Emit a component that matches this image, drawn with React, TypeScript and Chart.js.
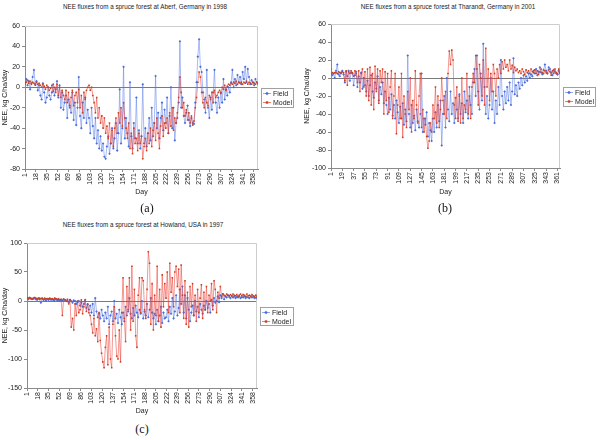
import React, { useEffect, useRef } from 'react';
import { Chart, registerables } from 'chart.js';

Chart.register(...registerables);

const FONT = "'Liberation Sans', Arial, Helvetica, sans-serif";
const FIELD_LINE = 'rgba(90,125,230,0.65)';
const FIELD_PT = 'rgb(75,108,220)';
const MODEL_LINE = 'rgba(235,55,45,0.65)';
const MODEL_PT = 'rgb(200,65,30)';

// Day of year (every second day sampled)
const days: number[] = Array.from({ length: 183 }, (_, i) => 1 + 2 * i);

const ticksA = [1, 18, 35, 52, 69, 86, 103, 120, 137, 154, 171, 188, 205, 222, 239, 256, 273, 290, 307, 324, 341, 358];
const ticksB = [1, 19, 37, 55, 73, 91, 109, 127, 145, 163, 181, 199, 217, 235, 253, 271, 289, 307, 325, 343, 361];
const ticksC = [1, 18, 35, 52, 69, 86, 103, 120, 137, 154, 171, 188, 205, 222, 239, 256, 273, 290, 307, 324, 341, 358];

// (a) Aberf, Germany 1998
const aberfField = [
  5, 8, 2, 6, -2, 4, 10, 17, 3, 6,
  -3, 2, -8, -12, 4, -5, -15, -10, 0, -8,
  -12, -5, 3, -8, -2, 6, -10, 2, -20, -5,
  -22, -15, -8, -30, -12, -18, -25, -5, -32, -15,
  -37, -20, 10, -28, -40, -15, -30, -10, -35, -22,
  -30, -45, -20, -38, -50, -30, -55, -42, -60, -48,
  -62, -55, -68, -70, -58, -48, -65, -55, -40, -60,
  -50, -35, -62, -45, -2, -55, -40, 20, -50, -30,
  -45, -58, 5, -48, -60, -35, -50, -10, -55, -42,
  -60, -48, 3, -55, -40, -58, -45, -30, -52, -20,
  -48, -35, 11, -40, -25, -50, -30, -15, -42, -22,
  -35, -10, -45, -28, 0, -40, -20, -52, -35, -30,
  -15, 45, -20, -10, -28, -35, -25, -18, -32, -38,
  -30, -35, -36, -15, 5, 30, 47, 20, 15, -5,
  -12, -25, 17, -20, -30, -10, -22, -5, 17, -15,
  -25, -10, -20, -5, -15, 8, -12, -2, -8, 0,
  -5, 5, 17, 0, 8, 2, 12, 5, 10, 3,
  15, 8, 20, 5, 18, 10, 3, 7, 5, 2,
  8, 5, 3,
];
const aberfModel = [
  3, 5, 7, 4, 6, 3, 5, 4, 2, 5,
  3, 4, 2, 0, 3, 1, -2, 2, 0, -3,
  -1, 2, -4, 0, -5, 3, -8, 0, -10, -3,
  -8, -12, -3, -15, -5, -20, -10, -3, -18, -8,
  -5, -15, -2, -20, -8, -25, -5, -12, -3, 0,
  2, -3, 0, -8, -15, -25, -10, -30, -20, -35,
  -28, -40, -30, -45, -38, -50, -35, -55, -42, -58,
  -40, -30, -45, -25, -35, -20, -38, -15, -30, -40,
  -50, -35, -60, -45, -65, -40, -55, -50, -62, -45,
  -55, -48, -70, -58, -50, -62, -45, -55, -40, -58,
  -42, -35, -52, -30, -45, -60, -38, -28, -48, -35,
  -40, -30, -45, -25, -38, -20, -42, -30, -35, -25,
  -10, 10, -5, -20, -15, -28, -22, -32, -25, -35,
  -28, -37, -33, -20, -10, 5, 15, 10, -5, -15,
  -20, -10, -15, -18, -8, -12, -5, -15, -3, -10,
  -8, -5, -3, -6, 0, -2, 2, -3, 1, 3,
  2, 4, 3, 5, 4, 6, 3, 5, 4, 5,
  3, 5, 4, 6, 3, 5, 4, 3, 5, 4,
  3, 5, 4,
];

// (b) Tharandt, Germany 2001
const tharandtField = [
  10, 3, 5, 0, 8, 15, 4, 2, 6, 8,
  4, -5, 7, 2, 8, -3, 6, 5, -8, 3,
  7, -10, 2, -5, 6, -12, 0, -8, -15, -3,
  -20, -8, 3, -15, -22, -5, -12, 2, -25, -10,
  -18, -5, -28, -15, -30, -40, -22, -35, -18, -42,
  -30, -45, -25, -38, -50, -32, -45, -28, -52, -35,
  -48, 25, -40, -55, -30, -50, -42, -58, -35, -48,
  -55, -40, 5, -60, -45, -52, -38, -65, -50, -58,
  -70, -45, -60, -38, -55, -30, -48, -25, -75, -40,
  -20, -55, 0, -35, -48, -15, -40, -28, -50, -22,
  -35, -45, -18, -40, -28, -50, -15, -38, -25, -45,
  -10, -30, -40, -5, 10, -20, 25, -15, -35, 5,
  -25, 38, -10, -40, -20, -45, -30, 0, -35, -15,
  -50, -25, -40, -10, -30, 20, -20, -35, -15, -28,
  -10, -25, -5, -30, -15, 22, -18, -8, -20, -5,
  -12, 0, -8, 3, -5, 2, -3, 5, 0, 4,
  2, 8, 5, 10, 3, 7, 12, 6, 4, 9,
  15, 8, 5, 12, 10, 6, 3, 9, 7, 5,
  4, 8, 6,
];
const tharandtModel = [
  5, 6, 5, 6, 6, 5, 7, 6, 5, 7,
  6, -3, 8, -8, 7, 5, 8, 6, 2, 8,
  5, -5, 8, -15, 5, 10, -10, 7, -20, 10,
  -25, 12, -30, 5, -35, 13, -15, 10, -28, 8,
  -5, 10, -40, 7, -25, 5, -38, -10, 8, -45,
  -20, 5, -62, -30, -10, -45, 5, -66, -20, -40,
  -55, -15, -35, 0, -60, -25, -45, 8, -30, -50,
  -20, 5, -55, -35, -60, -45, -65, -78, -70, -50,
  -60, -30, -45, -10, -50, -20, -55, -35, 0, -25,
  -40, -15, -45, 5, 30, 15, 31, 20, -30, -45,
  -10, -48, -20, -50, 0, -45, -30, -35, 5, -40,
  -20, -45, -10, 5, -5, 25, 10, -30, 15, 0,
  -20, 20, -30, 33, -10, 10, -25, 5, -15, 15,
  5, -20, 10, 0, 15, 5, 18, 10, 20, 12,
  15, 8, 20, 10, 14, 6, 12, 8, 10, 6,
  8, 5, 10, 7, 4, 9, 6, 8, 5, 10,
  7, 6, 9, 5, 8, 4, 7, 10, 6, 5,
  8, 6, 5, 9, 7, 3, 8, 5, 10, 6,
  4, 10, 5,
];

// (c) Howland, USA 1997
const howlandField = [
  4, 3, 5, 4, 3, 4, 5, 3, 2, 4,
  3, -3, 4, 2, 3, 1, 4, 2, 3, 2,
  3, 1, 2, 3, 1, 2, 0, 2, 1, 3,
  2, 0, 1, -2, 2, 0, -3, 1, 0, -5,
  -2, 0, -8, -3, -10, -5, 2, -12, -6, -15,
  -8, -20, -5, -25, 5, -18, -28, -22, -30, -15,
  -25, -35, -20, -30, -10, -40, -25, -18, -35, 0,
  -30, -22, -38, -15, -28, -40, -20, -35, -10, -25,
  -18, 5, -22, -30, -12, -25, -8, -20, -28, -15,
  -22, 0, -30, -18, -25, -5, -28, -15, 5, -20,
  -30, -22, -40, -15, -35, -25, -10, -38, -20, -30,
  -28, -15, -35, -10, -22, 5, -30, -18, 10, -25,
  -12, 20, -5, 25, -20, 10, -30, 5, -15, -35,
  -20, -8, -25, 0, -18, -10, -28, -5, -15, -22,
  -8, -15, 0, -12, -5, -20, 2, -8, 5, -3,
  0, 8, -2, 10, 5, 12, 3, 8, 6, 10,
  7, 5, 9, 6, 8, 5, 7, 6, 8, 5,
  7, 6, 8, 5, 7, 6, 5, 8, 6, 7,
  5, 6, 5,
];
const howlandModel = [
  6, 5, 6, 5, 4, 5, 6, 5, 4, 5,
  5, 4, 5, 3, 5, 4, 3, 4, 5, 4,
  4, 3, 5, 4, 3, 4, 2, 3, -25, 3,
  2, 0, 3, -5, 2, -45, -30, -50, -5, -25,
  0, -20, -15, 2, -22, -10, 0, -18, -5, -20,
  -25, -40, -55, -30, -60, -48, -70, -20, -68, -90,
  -105, -115, -80, -60, -110, -45, -100, -115, -40, -10,
  -60, -95, -100, -50, -105, -20, 40, -30, -70, 25,
  -15, 40, -50, 60, -35, 20, -60, -80, 10, 40,
  -20, 40, 35, -15, -30, 20, 85, 65, -40, 30,
  -50, 10, -25, 60, -35, 20, -45, 45, -10, 30,
  5, 50, -20, 65, 15, 40, -10, 50, 60, 25,
  55, -20, 62, 10, -30, 35, -40, 15, -45, 25,
  -10, 30, -25, 10, -35, 20, -20, 5, 28, -30,
  15, -15, 25, -20, 10, 0, 30, -15, 35, 20,
  -20, 15, 5, 25, 8, 12, 10, 8, 12, 10,
  9, 11, 8, 12, 10, 9, 11, 8, 10, 12,
  9, 11, 10, 8, 12, 9, 10, 8, 11, 9,
  8, 10, 8,
];

type Box = { left: number; right: number; top: number; bottom: number };
type PanelProps = {
  left: number; top: number; width: number; height: number;
  plot: Box;
  field: number[]; model: number[];
  yMin: number; yMax: number; yStep: number;
  xTicks: number[];
  legend: { x: number; y: number; w: number; h: number };
};

function Panel(p: PanelProps) {
  const ref = useRef<HTMLCanvasElement>(null);
  useEffect(() => {
    const canvas = ref.current;
    if (!canvas) return;
    const frame = {
      id: 'frame',
      beforeDatasetsDraw(chart: any) {
        const a = chart.chartArea;
        const c = chart.ctx;
        c.save();
        c.strokeStyle = '#cdcdcd';
        c.lineWidth = 1;
        c.beginPath();
        c.moveTo(a.left, a.top + 0.5);
        c.lineTo(a.right - 0.5, a.top + 0.5);
        c.lineTo(a.right - 0.5, a.bottom);
        c.stroke();
        c.restore();
      },
    };
    const legendPlugin = {
      id: 'boxLegend',
      afterDraw(chart: any) {
        const c = chart.ctx;
        const { x, y, w, h } = p.legend;
        c.save();
        c.fillStyle = '#fff';
        c.fillRect(x, y, w, h);
        c.strokeStyle = '#a0a0a0';
        c.lineWidth = 1;
        c.strokeRect(x + 0.5, y + 0.5, w, h);
        const rows = [
          { label: 'Field', line: FIELD_LINE, pt: FIELD_PT, diamond: true },
          { label: 'Model', line: MODEL_LINE, pt: MODEL_PT, diamond: false },
        ];
        c.font = `7px ${FONT}`;
        c.textBaseline = 'middle';
        rows.forEach((r, i) => {
          const cy = y + 5.5 + i * 9;
          c.strokeStyle = r.line;
          c.lineWidth = 1;
          c.beginPath();
          c.moveTo(x + 2, cy);
          c.lineTo(x + 10, cy);
          c.stroke();
          c.fillStyle = r.pt;
          c.beginPath();
          if (r.diamond) {
            c.moveTo(x + 6, cy - 1.8);
            c.lineTo(x + 7.8, cy);
            c.lineTo(x + 6, cy + 1.8);
            c.lineTo(x + 4.2, cy);
            c.closePath();
            c.fill();
          } else {
            c.fillRect(x + 4.8, cy - 1.2, 2.4, 2.4);
          }
          c.fillStyle = '#222';
          c.fillText(r.label, x + 12, cy + 0.5);
        });
        c.restore();
      },
    };
    const tickFont = { size: 7, family: FONT };
    const chart = new Chart(canvas, {
      type: 'line',
      data: {
        datasets: [
          {
            label: 'Field',
            data: days.map((d, i) => ({ x: d, y: p.field[i] })),
            borderColor: FIELD_LINE,
            backgroundColor: FIELD_PT,
            pointBackgroundColor: FIELD_PT,
            borderWidth: 0.8,
            pointStyle: 'rectRot',
            pointRadius: 1.3,
            pointBorderWidth: 0,
            order: 1,
          },
          {
            label: 'Model',
            data: days.map((d, i) => ({ x: d, y: p.model[i] })),
            borderColor: MODEL_LINE,
            backgroundColor: MODEL_PT,
            pointBackgroundColor: MODEL_PT,
            borderWidth: 0.8,
            pointStyle: 'rect',
            pointRadius: 1.1,
            pointBorderWidth: 0,
            order: 0,
          },
        ],
      },
      options: {
        animation: false,
        responsive: false,
        devicePixelRatio: 1,
        layout: { padding: { top: p.plot.top, right: p.width - p.plot.right, left: 0, bottom: 0 } },
        plugins: { legend: { display: false }, tooltip: { enabled: false }, title: { display: false } },
        scales: {
          x: {
            type: 'linear',
            min: 1,
            max: 365,
            afterBuildTicks: (s: any) => { s.ticks = p.xTicks.map((v) => ({ value: v })); },
            afterFit: (s: any) => { s.height = p.height - p.plot.bottom; },
            ticks: { autoSkip: false, minRotation: 90, maxRotation: 90, font: tickFont, color: '#222', padding: 1 },
            grid: { drawOnChartArea: false, drawTicks: true, tickLength: 3, color: '#8a8a8a' },
            border: { color: '#8a8a8a', width: 1 },
            title: { display: true, text: 'Day', font: tickFont, color: '#222', padding: { top: 0, bottom: 4 } },
          },
          y: {
            min: p.yMin,
            max: p.yMax,
            afterFit: (s: any) => { s.width = p.plot.left; },
            ticks: { stepSize: p.yStep, font: tickFont, color: '#222', padding: 2 },
            grid: {
              color: (ctx: any) => (ctx.tick && ctx.tick.value === 0 ? '#7a7a7a' : 'rgba(0,0,0,0)'),
              tickColor: '#8a8a8a',
              tickLength: 3,
              drawTicks: true,
            },
            border: { color: '#8a8a8a', width: 1 },
            title: { display: true, text: 'NEE, kg C/ha/day', font: tickFont, color: '#222', padding: { top: 1, bottom: 0 } },
          },
        },
      },
      plugins: [frame, legendPlugin],
    } as any);
    return () => chart.destroy();
  }, []);
  return (
    <canvas
      ref={ref}
      width={p.width}
      height={p.height}
      style={{ position: 'absolute', left: p.left, top: p.top, width: p.width, height: p.height }}
    />
  );
}

const titleStyle = (x: number, y: number): React.CSSProperties => ({
  position: 'absolute', left: x, top: y, transform: 'translate(-50%, -50%)',
  fontFamily: FONT, fontSize: 6.3, color: '#222', whiteSpace: 'nowrap', lineHeight: 1,
});
const capStyle = (x: number, y: number): React.CSSProperties => ({
  position: 'absolute', left: x, top: y, transform: 'translate(-50%, -50%)',
  fontFamily: "'Liberation Serif', 'Times New Roman', serif", fontSize: 12, color: '#111', whiteSpace: 'nowrap', lineHeight: 1,
});

export default function App() {
  return (
    <div style={{ position: 'absolute', left: 0, top: 0, width: 616, height: 440, background: '#fff', overflow: 'hidden' }}>
      <div style={titleStyle(145, 7)}>NEE fluxes from a spruce forest at Aberf, Germany in 1998</div>
      <div style={titleStyle(448, 7)}>NEE fluxes from a spruce forest at Tharandt, Germany in 2001</div>
      <div style={titleStyle(143, 225)}>NEE fluxes from a spruce forest at Howland, USA in 1997</div>
      <Panel
        left={0} top={0} width={302} height={200}
        plot={{ left: 25, right: 258, top: 26, bottom: 169 }}
        field={aberfField} model={aberfModel}
        yMin={-80} yMax={60} yStep={20} xTicks={ticksA}
        legend={{ x: 261, y: 88, w: 32, h: 19 }}
      />
      <Panel
        left={302} top={0} width={314} height={200}
        plot={{ left: 29, right: 258, top: 24, bottom: 168 }}
        field={tharandtField} model={tharandtModel}
        yMin={-100} yMax={60} yStep={20} xTicks={ticksB}
        legend={{ x: 261, y: 87, w: 32, h: 19 }}
      />
      <Panel
        left={0} top={212} width={302} height={207}
        plot={{ left: 27, right: 257, top: 31, bottom: 176 }}
        field={howlandField} model={howlandModel}
        yMin={-150} yMax={100} yStep={50} xTicks={ticksC}
        legend={{ x: 260, y: 95, w: 33, h: 18 }}
      />
      <div style={capStyle(147, 208)}>(a)</div>
      <div style={capStyle(445, 208)}>(b)</div>
      <div style={capStyle(142, 429)}>(c)</div>
    </div>
  );
}
